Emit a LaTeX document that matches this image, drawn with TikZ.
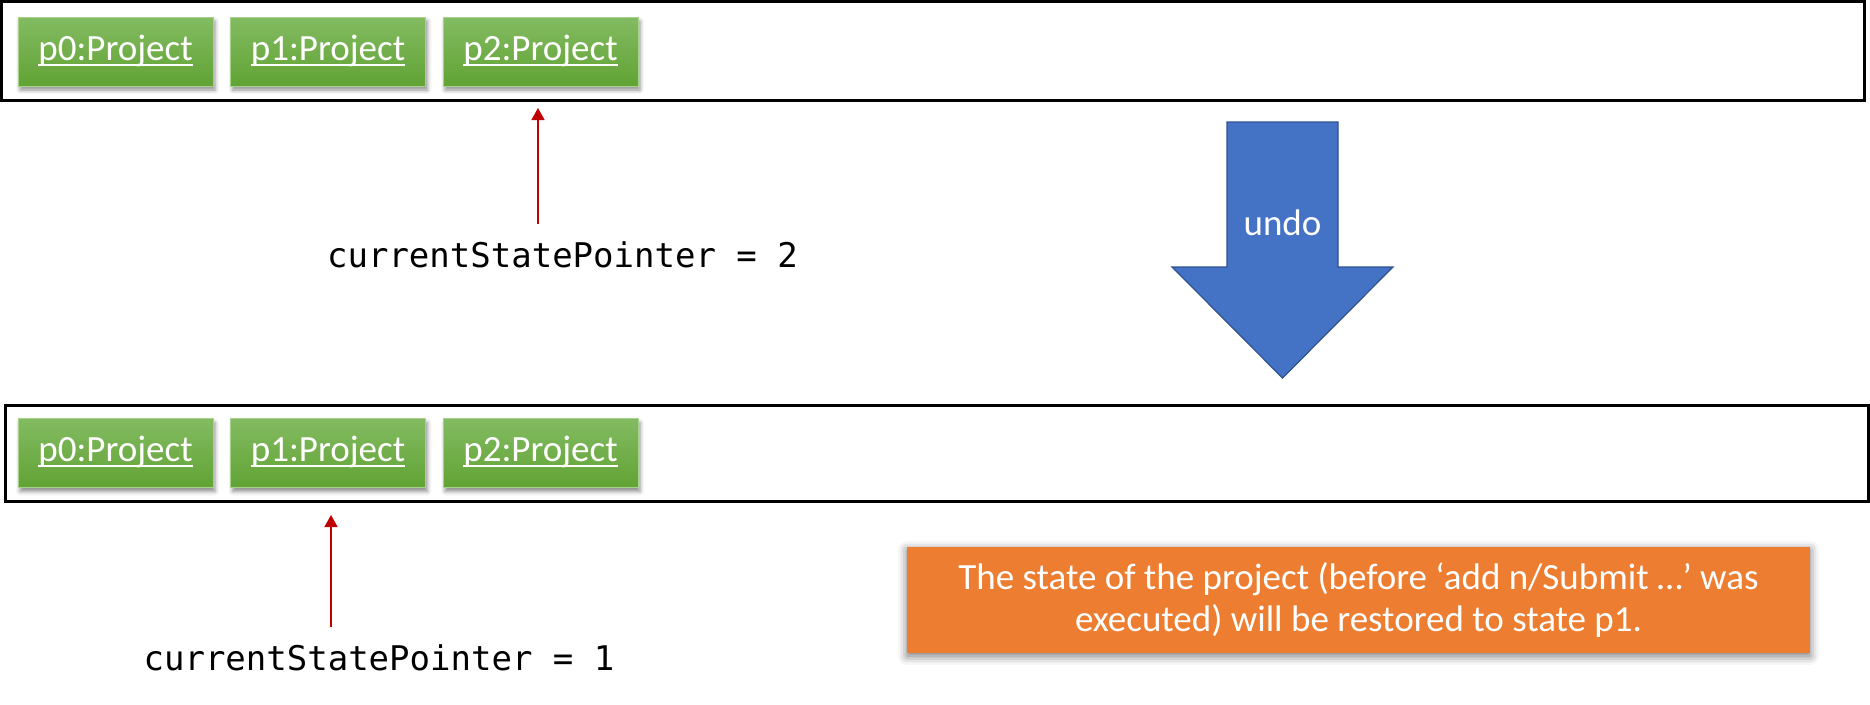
\documentclass[tikz,border=0pt]{standalone}
\usepackage{fontspec}
\setmainfont{Carlito}
\newfontfamily\monof{DejaVu Sans Mono}
\usetikzlibrary{arrows.meta,shadows.blur}
\definecolor{gtop}{RGB}{131,187,98}
\definecolor{gbot}{RGB}{97,163,52}
\definecolor{gborder}{RGB}{169,209,142}
\definecolor{undoblue}{RGB}{68,114,196}
\definecolor{undoedge}{RGB}{47,82,143}
\definecolor{ptrred}{RGB}{192,0,0}
\definecolor{noteorange}{RGB}{237,125,49}
\newcommand{\myul}[1]{\setbox0\hbox{#1}\rlap{\rule[-5.5pt]{\wd0}{1.8pt}}\box0}
\begin{document}
\begin{tikzpicture}[x=1pt,y=-1pt,
  frame/.style={draw=black,line width=3pt},
  proj/.style={minimum width=195pt,minimum height=69pt,inner sep=0pt,
    text height=25pt,text depth=8pt,top color=gtop,bottom color=gbot,
    draw=gborder,line width=0.8pt,text=white,font=\fontsize{37}{44}\selectfont,
    blur shadow={shadow xshift=2pt,shadow yshift=-4pt,shadow blur radius=4pt,shadow opacity=45}},
  ptr/.style={font=\monof\fontsize{34}{40}\selectfont,inner xsep=0pt,inner ysep=17pt,anchor=base},
  ptrarrow/.style={draw=ptrred,line width=1.3pt,-{Triangle[width=13pt,length=12pt]}},
  undoarrow/.style={fill=undoblue,draw=undoedge,line width=1.2pt},
  undotext/.style={text=white,font=\fontsize{37}{44}\selectfont,inner sep=0pt,anchor=base},
  note/.style={fill=noteorange,text=white,align=center,minimum width=903pt,minimum height=106pt,
    inner sep=0pt,font=\fontsize{37}{42}\selectfont,
    blur shadow={shadow xshift=0pt,shadow yshift=-3pt,shadow blur radius=9pt,shadow opacity=55}}]
\useasboundingbox (0,0) rectangle (1870,704);
% frames
\draw[frame] (1.5,1.5) rectangle (1864.4,100.7);
\draw[frame] (5.3,405.3) rectangle (1868,501.3);
% top row
\node[proj] (a0) at (115.5,51.5) {\myul{p0:Project}};
\node[proj] (a1) at (328,51.5) {\myul{p1:Project}};
\node[proj] (a2) at (540.5,51.5) {\myul{p2:Project}};
% bottom row
\node[proj] (b0) at (115.5,453) {\myul{p0:Project}};
\node[proj] (b1) at (328,453) {\myul{p1:Project}};
\node[proj] (b2) at (540.5,453) {\myul{p2:Project}};
% pointers
\node[ptr] (ptr2) at (562.5,267) {currentStatePointer = 2};
\coordinate (tip2) at (538,108);
\draw[ptrarrow] (ptr2.north -| tip2) -- (tip2);
\node[ptr] (ptr1) at (379,670) {currentStatePointer = 1};
\coordinate (tip1) at (331,515);
\draw[ptrarrow] (ptr1.north -| tip1) -- (tip1);
% undo arrow
\draw[undoarrow] (1227,122) -- (1338,122) -- (1338,267) -- (1393,267) -- (1282.5,378)
  -- (1172,267) -- (1227,267) -- cycle;
\node[undotext] (undo) at (1282.5,235) {undo};
% note
\node[note] (note) at (1358.5,600) {The state of the project (before ‘add n/Submit …’ was\\executed) will be restored to state p1.};
\end{tikzpicture}
\end{document}
